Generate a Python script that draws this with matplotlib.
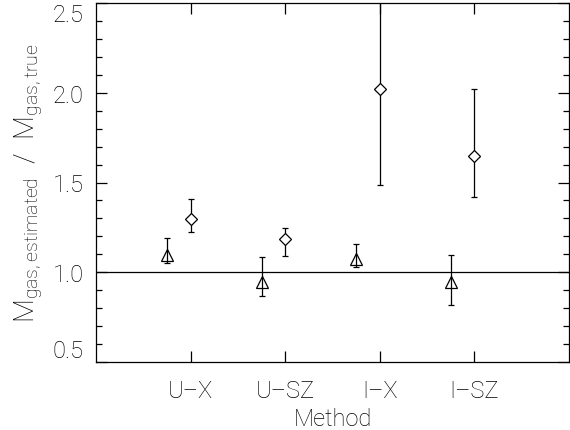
import matplotlib
matplotlib.use("Agg")
import matplotlib.pyplot as plt
from matplotlib.ticker import MultipleLocator
import numpy as np

methods = ["U\u2013X", "U\u2013SZ", "I\u2013X", "I\u2013SZ"]
yticks = [0.5, 1.0, 1.5, 2.0, 2.5]
tri_val = [1.097, 0.945, 1.072, 0.943]
tri_hi = [1.19, 1.087, 1.156, 1.096]
tri_lo = [1.05, 0.868, 1.028, 0.817]
dia_val = [1.298, 1.187, 2.022, 1.648]
dia_hi = [1.409, 1.246, 2.70, 2.022]
dia_lo = [1.226, 1.089, 1.487, 1.417]

plt.rcParams['font.family'] = ['Roboto', 'DejaVu Sans']
plt.rcParams['font.weight'] = 'light'
plt.rcParams['axes.labelweight'] = 'light'
plt.rcParams['mathtext.fontset'] = 'custom'
plt.rcParams['mathtext.rm'] = 'Roboto:light'
plt.rcParams['mathtext.it'] = 'Roboto:light'
fig = plt.figure(figsize=(5.70, 4.31), dpi=100)
ax = fig.add_axes([96/570, 1-363/431, (569-96)/570, 359/431])

pos = np.arange(1, len(methods) + 1)
tv = np.array(tri_val); dv = np.array(dia_val)
ax.errorbar(pos - 0.25, tv, yerr=[tv - np.array(tri_lo), np.array(tri_hi) - tv],
            fmt='^', mfc='none', mec='black', ecolor='black', ms=8, mew=0.9,
            elinewidth=0.9, capsize=2.5, capthick=0.9)
ax.errorbar(pos, dv, yerr=[dv - np.array(dia_lo), np.array(dia_hi) - dv],
            fmt='D', mfc='white', mec='black', ecolor='black', ms=6.5, mew=0.9,
            elinewidth=0.9, capsize=2.5, capthick=0.9)
ax.axhline(1.0, color='black', lw=0.9)

ax.set_xlim(0, 5)
ax.set_ylim(0.5, 2.5)
ax.set_xticks(pos)
ax.set_xticklabels(methods)
ax.set_yticks(yticks, ["%.1f" % v for v in yticks])
ax.yaxis.set_minor_locator(MultipleLocator(0.1))
ax.tick_params(axis='both', which='both', direction='in', top=True, right=True,
               labelsize=17, width=0.9, labelcolor='black')
ax.tick_params(axis='x', which='major', length=8, pad=12)
ax.tick_params(axis='y', which='major', length=8, pad=9)
ax.tick_params(axis='both', which='minor', length=4)
ticks = ax.yaxis.get_major_ticks()
ticks[0].label1.set_va('bottom')
ticks[-1].label1.set_va('top')
for s in ax.spines.values():
    s.set_linewidth(0.9)

ax.set_xlabel("Method", fontsize=17, labelpad=4)
ax.set_ylabel(r"M$_{\rm gas,estimated}$  /  M$_{\rm gas,true}$", fontsize=20, labelpad=5)

fig.savefig("out.png", dpi=100)
